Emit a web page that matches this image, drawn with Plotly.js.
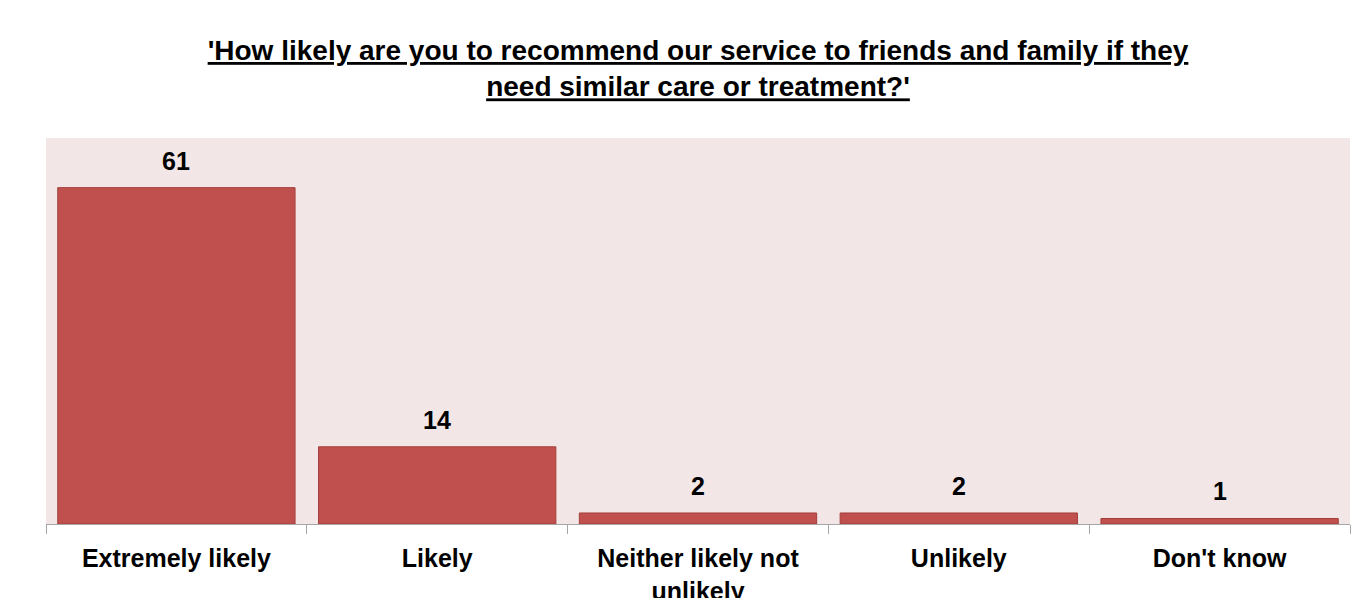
<!DOCTYPE html>
<html>
<head>
<meta charset="utf-8">
<script src="https://cdn.plot.ly/plotly-3.0.1.min.js"></script>
<style>html,body{margin:0;padding:0;background:#fff;}#chart{width:1357px;height:598px;}</style>
</head>
<body>
<div id="chart"></div>
<script>
const categories = ["Extremely likely", "Likely", "Neither likely not<br>unlikely", "Unlikely", "Don't know"];
const values = [61, 14, 2, 2, 1];
const titleText = "<u>'How likely are you to recommend our service to friends and family if they</u><br><u>need similar care or treatment?'</u>";
const FONT = 'Liberation Sans Narrow, Arial Narrow, Liberation Sans, Arial';

const trace = {
  type: 'bar',
  x: categories,
  y: values,
  marker: {color: '#C0504D', line: {color: '#A43F3C', width: 1}},
  width: 0.91,
  hoverinfo: 'none'
};

const annotations = categories.map((c, i) => ({
  x: c, y: values[i], xref: 'x', yref: 'y',
  text: '<b>' + values[i] + '</b>',
  showarrow: false, yanchor: 'bottom', yshift: 11,
  font: {family: FONT, size: 25, color: '#000'}
}));

const layout = {
  width: 1357, height: 598,
  margin: {l: 46, r: 7, t: 138, b: 74, pad: 0},
  paper_bgcolor: '#ffffff',
  plot_bgcolor: '#F2E6E6',
  showlegend: false,
  title: {
    text: titleText,
    font: {family: FONT, size: 28, color: '#000', weight: 'bold'},
    xref: 'paper', x: 0.5, xanchor: 'center',
    yref: 'container', y: 1 - 60/598, yanchor: 'middle'
  },
  xaxis: {
    type: 'category',
    showline: true, linecolor: '#A6A6A6', linewidth: 1,
    ticks: 'outside', ticklen: 9, tickcolor: '#A6A6A6', tickwidth: 1,
    tickson: 'boundaries',
    ticklabelstandoff: 12,
    tickfont: {family: FONT, size: 25, color: '#000', weight: 'bold'},
    showgrid: false, zeroline: false,
    fixedrange: true
  },
  yaxis: {
    range: [0, 70],
    visible: false,
    showgrid: false, zeroline: false,
    fixedrange: true
  },
  annotations: annotations,
  bargap: 0.09
};

Plotly.newPlot('chart', [trace], layout, {displayModeBar: false, staticPlot: true});
</script>
</body>
</html>
